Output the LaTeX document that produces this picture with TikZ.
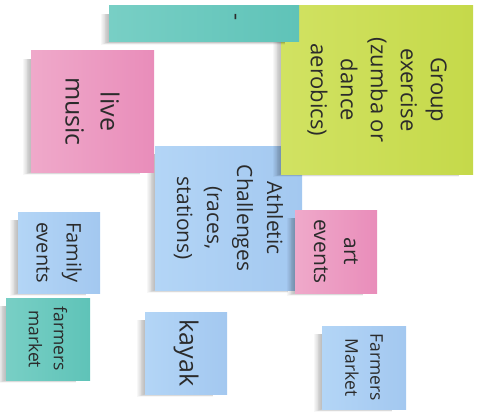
\documentclass[tikz,border=0pt]{standalone}
\usepackage{fontspec}
\setmainfont{Open Sans}
\definecolor{txt}{HTML}{2B2B2B}
\definecolor{tl1}{HTML}{78CFC5}\definecolor{tl2}{HTML}{5FC3B8}
\definecolor{gr1}{HTML}{D1E262}\definecolor{gr2}{HTML}{C5D94A}
\definecolor{pk1}{HTML}{EFA9CA}\definecolor{pk2}{HTML}{E98DBA}
\definecolor{bl1}{HTML}{B3D5F6}\definecolor{bl2}{HTML}{A3C8F0}
\newcommand\noteshadow[4]{%
  \foreach \d in {1,...,9}{\fill[black,opacity=0.03] ({#1-\d*0.9},{#2+8}) rectangle ({#3-14},{#4+\d*0.3});}}
\tikzset{
  note/.style={rectangle, draw=none, inner sep=0pt, outer sep=0pt},
  teal note/.style={note, left color=tl1, right color=tl2},
  green note/.style={note, left color=gr1, right color=gr2},
  pink note/.style={note, left color=pk1, right color=pk2},
  blue note/.style={note, left color=bl1, right color=bl2},
  notetext/.style={rotate=-90, align=center, text=txt, inner sep=0pt},
}
\begin{document}
\begin{tikzpicture}[x=1pt,y=-1pt]
\useasboundingbox (0,0) rectangle (477,412);
% Athletic
\noteshadow{155}{146}{302}{290}
\node[blue note, minimum width=147pt, minimum height=144pt] (ath) at (228.5,218) {};
\node[notetext, font=\fontsize{21}{30}\selectfont] (athT) at (ath) {Athletic\\Challenges\\(races,\\stations)};
% Group exercise
\noteshadow{281}{6}{473}{174}
\node[green note, minimum width=192pt, minimum height=168pt] (grp) at (377,90) {};
\node[notetext, font=\fontsize{22}{30}\selectfont] (grpT) at (grp) {Group\\exercise\\(zumba or\\dance\\aerobics)};
% top teal
\noteshadow{109}{6}{299}{42}
\node[teal note, minimum width=190pt, minimum height=36pt] (ttop) at (204,24) {};
\node[notetext, font=\fontsize{22}{30}\selectfont] (ttopT) at (233,17) {-};
% art events
\noteshadow{295}{210}{377}{293}
\node[pink note, minimum width=82pt, minimum height=83pt] (art) at (336,251.5) {};
\node[notetext, font=\fontsize{21}{30}\selectfont] (artT) at (art) {art\\events};
% live music
\noteshadow{31}{51}{154}{172}
\node[pink note, minimum width=123pt, minimum height=121pt] (live) at (92.5,111.5) {};
\node[notetext, font=\fontsize{25}{35}\selectfont] (liveT) at (live) {live\\music};
% Family events
\noteshadow{18}{212}{100}{293}
\node[blue note, minimum width=82pt, minimum height=81pt] (fam) at (59,252.5) {};
\node[notetext, font=\fontsize{20}{30}\selectfont] (famT) at (fam) {Family\\events};
% farmers market (teal)
\noteshadow{6}{298}{90}{380}
\node[teal note, minimum width=84pt, minimum height=82pt] (fmk) at (48,339) {};
\node[notetext, font=\fontsize{17.5}{25}\selectfont] (fmkT) at (fmk) {farmers\\market};
% kayak
\noteshadow{145}{312}{227}{394}
\node[blue note, minimum width=82pt, minimum height=82pt] (kay) at (186,353) {};
\node[notetext, font=\fontsize{25}{30}\selectfont] (kayT) at (kay) {kayak};
% Farmers Market
\noteshadow{322}{326}{406}{409}
\node[blue note, minimum width=84pt, minimum height=83pt] (fm2) at (364,367.5) {};
\node[notetext, font=\fontsize{17.5}{25}\selectfont] (fm2T) at (fm2) {Farmers\\Market};
\end{tikzpicture}
\end{document}
